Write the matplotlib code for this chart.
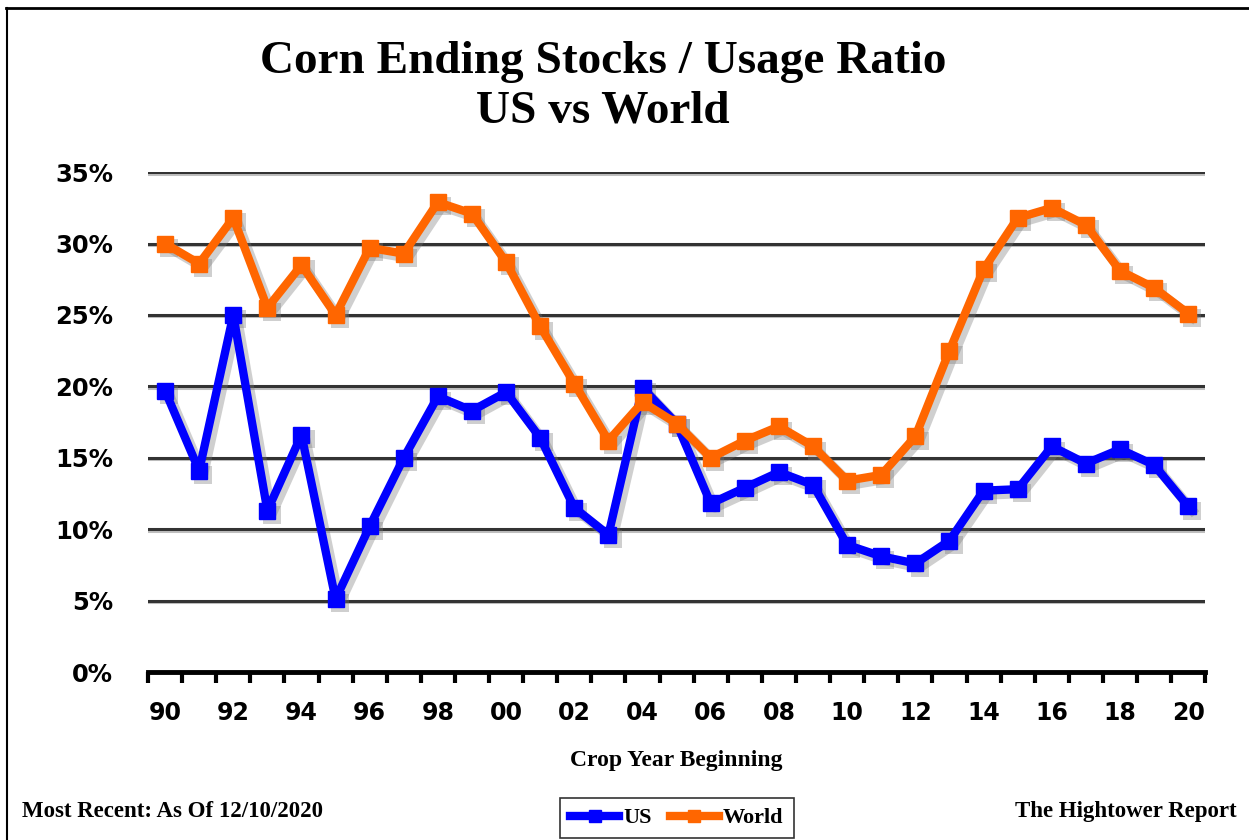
import matplotlib
matplotlib.use('Agg')
import matplotlib.pyplot as plt
import matplotlib.patheffects as pe
import matplotlib.transforms as mtransforms
from matplotlib.lines import Line2D

# Datos (ratio stocks/uso, %)
years = list(range(1990, 2021))
us = [19.7, 14.1, 25.0, 11.3, 16.6, 5.1, 10.2, 15.0, 19.3, 18.3, 19.6,
      16.4, 11.5, 9.6, 19.9, 17.4, 11.8, 12.9, 14.0, 13.1, 8.9,
      8.1, 7.6, 9.2, 12.7, 12.8, 15.8, 14.6, 15.6, 14.5, 11.6]
world = [30.0, 28.6, 31.8, 25.5, 28.5, 25.0, 29.7, 29.3, 32.9, 32.1, 28.7,
         24.2, 20.2, 16.2, 18.9, 17.4, 15.0, 16.2, 17.2, 15.8, 13.4,
         13.8, 16.5, 22.5, 28.2, 31.8, 32.5, 31.3, 28.1, 26.9, 25.1]
y_ticks = [0, 5, 10, 15, 20, 25, 30, 35]
x_ticks = list(range(1990, 2021, 2))

title = 'Corn Ending Stocks / Usage Ratio\nUS vs World'
serif = 'Liberation Serif'

fig = plt.figure(figsize=(12.49, 8.4), dpi=100)
ax = fig.add_axes([0.1185, 0.2, 0.8465, 0.595])

# Líneas de cuadrícula
for v in y_ticks[1:]:
    ax.axhline(v, color='#333333', lw=2.2, zorder=1,
               path_effects=[pe.SimpleLineShadow(offset=(1, -1), alpha=0.25), pe.Normal()])

# Sombra de las series (copia desplazada)
sombra = mtransforms.offset_copy(ax.transData, fig=fig, x=3, y=-3, units='points')
for serie in (us, world):
    ax.plot(years, serie, color='#777777', alpha=0.35, lw=7, marker='s', markersize=13,
            transform=sombra, zorder=2, markeredgewidth=0)

ax.plot(years, us, color='#0000FF', lw=6, marker='s', markersize=12,
        zorder=3, label='US')
ax.plot(years, world, color='#FF6600', lw=6, marker='s', markersize=12,
        zorder=3, label='World')

ax.set_xlim(1989.6, 2020.5)
ax.set_ylim(0, 35)

for s in ['top', 'right', 'left']:
    ax.spines[s].set_visible(False)
ax.spines['bottom'].set_linewidth(3.5)
ax.spines['bottom'].set_bounds(1989.5, 2020.5)

# Marcas del eje x entre categorías
ax.set_xticks([y - 0.5 for y in years] + [2020.5], minor=True)
ax.tick_params(axis='x', which='minor', length=8, width=3, direction='out')
ax.set_xticks(x_ticks)
ax.set_xticklabels([f'{y % 100:02d}' for y in x_ticks], fontsize=17, fontweight='bold')
ax.tick_params(axis='x', which='major', length=0, pad=21)

ax.set_yticks(y_ticks)
ax.set_yticklabels([f'{v}%' for v in y_ticks], fontsize=17.5, fontweight='bold')
ax.tick_params(axis='y', length=0, pad=25)

ax.set_xlabel('Crop Year Beginning', fontsize=17, fontweight='bold', family=serif, labelpad=18)

fig.text(0.483, 0.897, title, ha='center', va='center', fontsize=34,
         fontweight='bold', family=serif, linespacing=1.22)

fig.text(0.018, 0.034, 'Most Recent: As Of 12/10/2020', fontsize=16.5,
         fontweight='bold', family=serif, va='center')
fig.text(0.99, 0.034, 'The Hightower Report', fontsize=16.5,
         fontweight='bold', family=serif, va='center', ha='right')

handles = [Line2D([], [], color='#0000FF', lw=6, marker='s', markersize=9),
           Line2D([], [], color='#FF6600', lw=6, marker='s', markersize=9)]
leg = fig.legend(handles, ['US', 'World'], loc='center', bbox_to_anchor=(0.542, 0.026),
                 ncol=2, frameon=True, fancybox=False, edgecolor='black',
                 prop={'family': serif, 'weight': 'bold', 'size': 16},
                 handlelength=2.2, handletextpad=0.2, columnspacing=0.8,
                 borderpad=0.45)
leg.get_frame().set_linewidth(1.2)

# Borde exterior (arriba e izquierda)
fig.add_artist(Line2D([0.005, 1.0], [0.99, 0.99], color='black', lw=2, transform=fig.transFigure))
fig.add_artist(Line2D([0.0055, 0.0055], [0.0, 0.99], color='black', lw=1.5, transform=fig.transFigure))

fig.savefig('out.png', dpi=100)
